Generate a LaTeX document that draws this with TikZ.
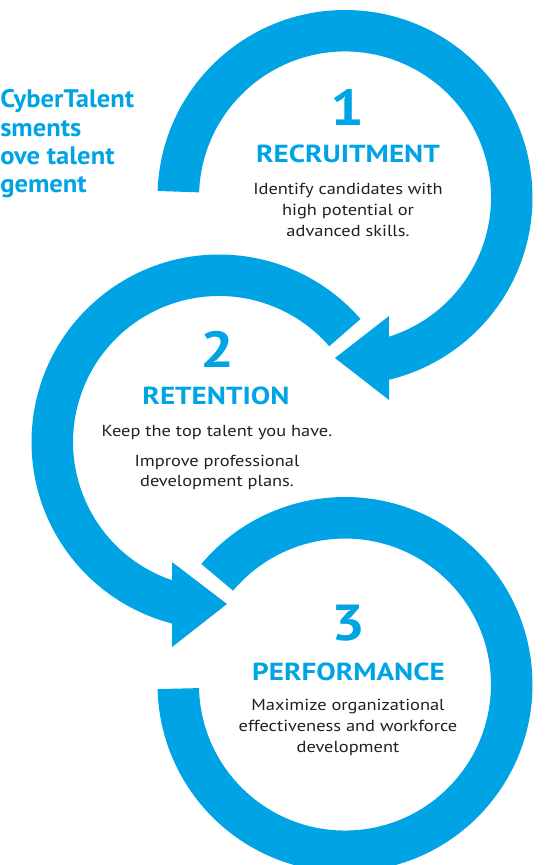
\documentclass[tikz,border=0pt]{standalone}
\usepackage{fontspec}
\setmainfont{PT Sans}
\newfontfamily\bodyfont[FakeStretch=1.15]{PT Sans}
\newfontfamily\headfont[FakeStretch=1.18]{PT Sans}
\newfontfamily\ttlfont[FakeStretch=1.05]{PT Sans}
\usepackage{tikz}

\definecolor{cyblue}{RGB}{0,163,228}
\definecolor{bodygray}{RGB}{35,31,32}

\tikzset{
  ring/.style={fill=cyblue, draw=none},
  numtxt/.style={font=\headfont\bfseries\fontsize{38}{38}\selectfont, text=cyblue, inner sep=0pt, anchor=base},
  headtxt/.style={font=\headfont\bfseries\fontsize{18.5}{18.5}\selectfont, text=cyblue, inner sep=0pt, anchor=base},
  bodytxt/.style={font=\bodyfont\fontsize{12}{15.4}\selectfont, text=bodygray, align=center, inner sep=0pt, anchor=base},
  titletxt/.style={font=\ttlfont\bfseries\fontsize{19}{21}\selectfont, text=cyblue, inner sep=0pt, anchor=base west}
}

\begin{document}
\begin{tikzpicture}[x=0.75pt,y=0.75pt,yscale=-1,xscale=1]
\useasboundingbox (0,0) rectangle (551,865);

% centres of the three rings
\coordinate (c1) at (345,197.5);
\coordinate (c2) at (219,442);
\coordinate (c3) at (345,684.5);

%Ring 1 with arrow head
\fill[ring] (c1) ++(182:187.5) arc[start angle=182, end angle=436.4, radius=187.5]
  -- (389,400) -- (335,358) -- (389,316) -- (388.9,336.7)
  arc[start angle=432.5, end angle=182, radius=146] -- cycle;
%Ring 2 with arrow head
\fill[ring] (c2) ++(319:187.5) arc[start angle=319, end angle=104.5, radius=187.5]
  -- (172,647) -- (227,604) -- (172,562) -- (172,580.2)
  arc[start angle=108.8, end angle=319, radius=146] -- cycle;
%Ring 3
\fill[ring] (c3) ++(220:187.5) arc[start angle=220, end angle=538.6, radius=187.5]
  -- (199,688.1) arc[start angle=538.6, end angle=220, radius=146] -- cycle;

% Title Text
\node[titletxt] (ttla) at (0,107.7) {CyberTalent};
\node[titletxt] (ttlb) at (0,136.5) {sments};
\node[titletxt] (ttlc) at (0,164.5) {ove talent};
\node[titletxt] (ttld) at (0,192) {gement};

% Text Node
\node[numtxt] (num1) at (347,125.7) {1};
\node[headtxt] (head1) at (348,162.3) {RECRUITMENT};
\node[bodytxt] (body1) at (348,236) {Identify candidates with\\high potential or\\advanced skills.};
% Text Node
\node[numtxt] (num2) at (217,367) {2};
\node[headtxt] (head2) at (216,404) {RETENTION};
\node[bodytxt] (body2a) at (217,436.5) {Keep the top talent you have.};
\node[bodytxt] (body2b) at (217,486.7) {Improve professional\\development plans.};
% Text Node
\node[numtxt] (num3) at (348,640) {3};
\node[headtxt] (head3) at (348.5,680) {PERFORMANCE};
\node[bodytxt] (body3) at (348,752) {Maximize organizational\\effectiveness and workforce\\development};

\end{tikzpicture}
\end{document}
